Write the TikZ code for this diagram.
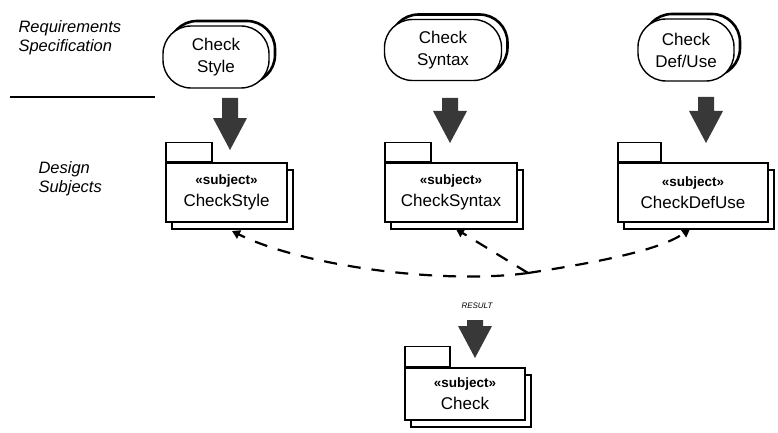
\documentclass[tikz,border=0pt]{standalone}
\usepackage{fontspec}
\setmainfont{Liberation Sans}
\usetikzlibrary{shadows,arrows.meta,calc}
\newcommand\blockarrow[3]{%
  \fill[blockfill] (#1-8,#2) -- (#1+8,#2) -- (#1+8,#3-32) -- (#1+17,#3-32) -- (#1,#3) -- (#1-17,#3-32) -- (#1-8,#3-32) -- cycle;}
\newcommand\stereofont{\bfseries\fontsize{13.5}{15}\selectfont}
\begin{document}
\begin{tikzpicture}[x=1pt,y=-1pt,
  activity/.style={draw, line width=1.4pt, fill=white, rounded corners=28pt,
    align=center, font=\fontsize{17}{22}\selectfont, inner sep=0pt,
    general shadow={shadow xshift=6pt, shadow yshift=5pt, draw=black, fill=none, line width=2.6pt}},
  pkg/.style={draw, line width=1.3pt, fill=white, align=center, inner sep=0pt,
    minimum height=59pt, font=\fontsize{17}{22}\selectfont,
    general shadow={shadow xshift=6pt, shadow yshift=-7pt, draw=black, fill=none, line width=2.4pt}},
  tabbox/.style={draw, line width=1.3pt, fill=white, minimum width=46pt, minimum height=19pt, inner sep=0pt, anchor=south west},
  blockfill/.style={fill=black!78},
  merge/.style={dash pattern=on 13pt off 11pt, line width=2.2pt, -{Triangle[width=9pt,length=8pt]}},
  sidelabel/.style={font=\itshape\fontsize{16.5}{19}\selectfont, align=left, anchor=west}
]
\useasboundingbox (0,0) rectangle (778,433);

% side labels
\node[sidelabel] (req) at (15,38) {Requirements\\Specification};
\node[sidelabel] (des) at (35,179) {Design\\Subjects};
\coordinate (sepL) at (10,97);
\coordinate (sepR) at (155,97);
\draw[line width=1.2pt] (sepL) -- (sepR);

% activities
\node[activity, minimum width=106pt, minimum height=62pt] (as) at (216,57) {Check\\Style};
\node[activity, minimum width=117pt, minimum height=61pt] (ay) at (443,50) {Check\\Syntax};
\node[activity, minimum width=96pt, minimum height=62pt] (ad) at (686,50) {Check\\Def/Use};

% packages
\node[pkg, minimum width=121pt] (ps) at (226.5,192.5) {{\stereofont «subject»}\\CheckStyle};
\node[tabbox] (pst) at (ps.north west) {};
\node[pkg, minimum width=132pt] (py) at (451,192.5) {{\stereofont «subject»}\\CheckSyntax};
\node[tabbox] (pyt) at (py.north west) {};
\node[pkg, minimum width=150pt] (pd) at (693,192.5) {{\stereofont «subject»}\\CheckDefUse};
\node[tabbox, minimum width=43pt] (pdt) at (pd.north west) {};
\node[pkg, minimum width=120pt, minimum height=52pt] (pc) at (465,394) {{\stereofont «subject»}\\Check};
\node[tabbox, minimum width=45pt, minimum height=20pt] (pct) at (pc.north west) {};

% block arrows
\blockarrow{230}{98}{150}
\blockarrow{450}{98}{143}
\blockarrow{706}{97}{143}
\blockarrow{475}{320}{358}
\node[font=\itshape\fontsize{8}{8}\selectfont] (res) at (477,306) {RESULT};

% merge connectors
\coordinate (J) at (528,273);
\coordinate (psE) at (232,231);
\coordinate (pyE) at (456,229);
\coordinate (pdE) at (690,229);
\draw[merge] (J) .. controls (440,285) and (300,265) .. (psE);
\draw[merge] (J) -- (pyE);
\draw[merge] (J) .. controls (600,262) and (660,250) .. (pdE);
\end{tikzpicture}
\end{document}
